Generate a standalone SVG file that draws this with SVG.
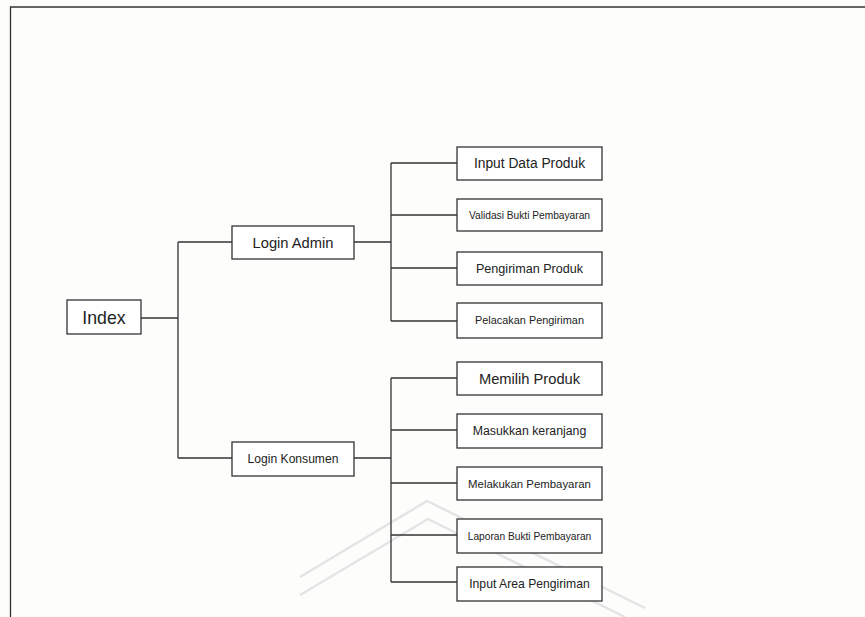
<svg xmlns="http://www.w3.org/2000/svg" width="865" height="617" viewBox="0 0 865 617">
<style>
.box{fill:#ffffff;stroke:#333;stroke-width:1.3}
.ln{fill:none;stroke:#333;stroke-width:1.3}
.t{font-family:"Liberation Sans",Arial,sans-serif;fill:#222;text-anchor:middle}
.wm{fill:none;stroke:#e4e4e4;stroke-width:2.5;stroke-linejoin:round}
</style>
<rect x="0" y="0" width="865" height="617" fill="#fdfdfc"/>
<path class="ln" d="M10.5,617 V7 H865" stroke-width="1.6"/>
<g id="watermark">
<path class="wm" d="M300,577 L427,501 L645,608"/>
<path class="wm" d="M300,595 L428,519 L625,617"/>
</g>
<g id="connectors">
<path class="ln" d="M141,318 H178 M178,242 V458 M178,242 H232 M178,458 H232"/>
<path class="ln" d="M354,242 H391 M391,163 V321 M391,163 H457 M391,215 H457 M391,268 H457 M391,321 H457"/>
<path class="ln" d="M354,458 H391 M391,378 V582 M391,378 H457 M391,430 H457 M391,483 H457 M391,535 H457 M391,582 H457"/>
</g>
<g id="index"><rect class="box" x="67" y="300" width="74" height="34"/><text class="t" x="104" y="323.5" font-size="17.7">Index</text></g>
<g id="login-admin"><rect class="box" x="232" y="226" width="122" height="33"/><text class="t" x="293" y="247.5" font-size="14.7">Login Admin</text></g>
<g id="login-konsumen"><rect class="box" x="232" y="442" width="122" height="34"/><text class="t" x="293" y="463.2" font-size="12.1">Login Konsumen</text></g>
<g id="input-data-produk"><rect class="box" x="457" y="147" width="145" height="33"/><text class="t" x="529.5" y="168.3" font-size="13.8">Input Data Produk</text></g>
<g id="validasi"><rect class="box" x="457" y="199" width="145" height="32"/><text class="t" x="529.5" y="218.6" font-size="10.2">Validasi Bukti Pembayaran</text></g>
<g id="pengiriman-produk"><rect class="box" x="457" y="252" width="145" height="33"/><text class="t" x="529.5" y="272.9" font-size="12.6">Pengiriman Produk</text></g>
<g id="pelacakan"><rect class="box" x="457" y="303" width="145" height="35"/><text class="t" x="529.5" y="324.3" font-size="10.9">Pelacakan Pengiriman</text></g>
<g id="memilih-produk"><rect class="box" x="457" y="362" width="145" height="33"/><text class="t" x="529.5" y="383.6" font-size="14.7">Memilih Produk</text></g>
<g id="masukkan-keranjang"><rect class="box" x="457" y="414" width="145" height="34"/><text class="t" x="529.5" y="435.3" font-size="12.3">Masukkan keranjang</text></g>
<g id="melakukan-pembayaran"><rect class="box" x="457" y="467" width="145" height="33"/><text class="t" x="529.5" y="487.5" font-size="11.4">Melakukan Pembayaran</text></g>
<g id="laporan-bukti"><rect class="box" x="457" y="519" width="145" height="34"/><text class="t" x="529.5" y="539.6" font-size="10.2">Laporan Bukti Pembayaran</text></g>
<g id="input-area"><rect class="box" x="457" y="567" width="145" height="34"/><text class="t" x="529.5" y="588.3" font-size="12.2">Input Area Pengiriman</text></g>
</svg>
